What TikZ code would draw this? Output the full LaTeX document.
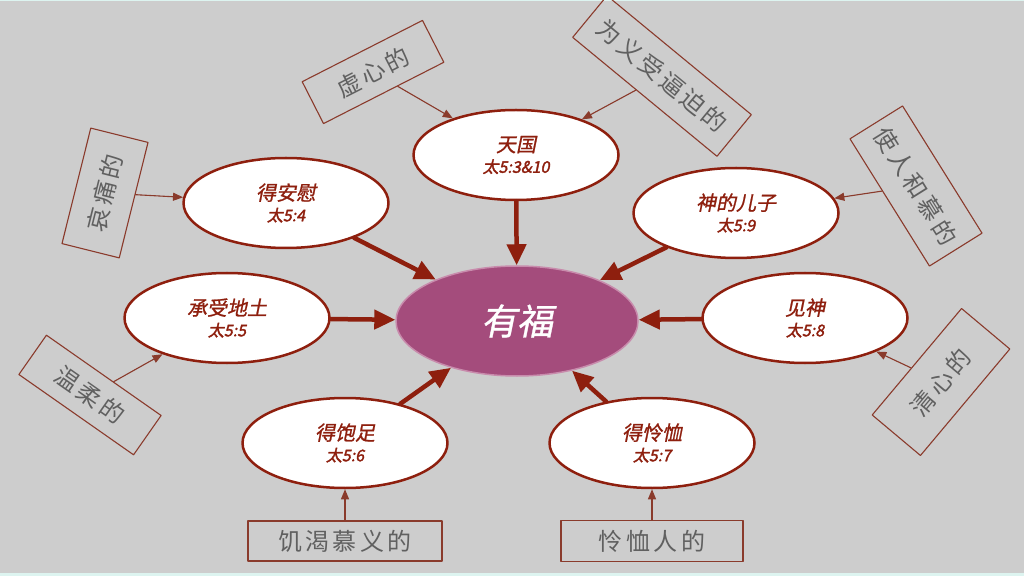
\documentclass[tikz,border=0pt]{standalone}
\usepackage{fontspec}
\setmainfont{Noto Sans CJK SC}
\newfontfamily\titlefont[FakeSlant=0.2,FakeBold=1]{Noto Sans CJK SC}
\newfontfamily\reffont[FakeSlant=0.2,FakeBold=2]{Noto Sans CJK SC}
\newfontfamily\boxfont[LetterSpace=14]{Noto Sans CJK SC}
\usepackage{tikz}
\usetikzlibrary{arrows.meta,shapes.geometric}

\definecolor{bggray}{HTML}{CDCDCD}
\definecolor{rimcyan}{HTML}{DDF4F0}
\definecolor{darkred}{HTML}{8E1F0E}
\definecolor{boxred}{HTML}{8A3B2C}
\definecolor{boxtext}{HTML}{606060}
\definecolor{plum}{HTML}{A44C7C}
\definecolor{plumrim}{HTML}{C88BAC}

\newcommand{\blessing}[2]{{\titlefont\fontsize{20}{22}\selectfont #1}\\{\reffont\fontsize{16}{18}\selectfont #2}}

\begin{document}
\begin{tikzpicture}[x=1pt,y=1pt,line cap=round,line join=round,>={Triangle[length=10pt,width=8pt]},
    result/.style={ellipse,draw=darkred,line width=2.5pt,fill=white,minimum width=205pt,minimum height=90pt,inner sep=0pt,align=center,text=darkred,font=\fontsize{19}{21}\selectfont},
    trait/.style={draw=boxred,line width=1.1pt,inner sep=0pt,text=boxtext,font=\boxfont\fontsize{24}{26}\selectfont},
    feed/.style={->,draw=boxred,fill=boxred,line width=1.1pt},
    lead/.style={-{Triangle[length=21pt,width=19pt]},draw=darkred,line width=4.5pt}]
    \useasboundingbox (0,0) rectangle (1024,576);
    \fill[bggray] (0,0) rectangle (1024,576);
    \fill[rimcyan] (0,0) rectangle (1024,3);
    \fill[rimcyan] (0,575) rectangle (1024,576);

    \node[ellipse,draw=plumrim,line width=1.5pt,fill=plum,minimum width=242pt,minimum height=110pt,text=white,font=\titlefont\fontsize{36}{38}\selectfont] (blessed) at (517,255) {有福};

    \node[result] (kingdom) at (516,421) {\blessing{天国}{太5:3\&10}};
    \node[result] (comfort) at (286,373) {\blessing{得安慰}{太5:4}};
    \node[result] (sons) at (736,363) {\blessing{神的儿子}{太5:9}};
    \node[result] (earth) at (227,258) {\blessing{承受地土}{太5:5}};
    \node[result] (seegod) at (805,258) {\blessing{见神}{太5:8}};
    \node[result] (filled) at (345,133) {\blessing{得饱足}{太5:6}};
    \node[result] (mercy) at (652,133) {\blessing{得怜恤}{太5:7}};

    \node[trait,rotate=27,minimum width=135pt,minimum height=47pt] (poor) at (373,504) {虚心的};
    \node[trait,rotate=-39.5,minimum width=187pt,minimum height=54pt] (persecuted) at (662,500) {为义受逼迫的};
    \node[trait,rotate=-58,minimum width=150pt,minimum height=62pt] (peace) at (916,390) {使人和慕的};
    \node[trait,rotate=76,minimum width=119pt,minimum height=59pt] (mourn) at (105,383) {哀痛的};
    \node[trait,rotate=-35,minimum width=140pt,minimum height=48pt] (meek) at (90,181) {温柔的};
    \node[trait,rotate=50,minimum width=139pt,minimum height=63pt] (pure) at (941,194) {清心的};
    \node[trait,minimum width=194pt,minimum height=40pt] (hunger) at (345,35) {饥渴慕义的};
    \node[trait,minimum width=182pt,minimum height=41pt] (merciful) at (652,35) {怜恤人的};

    \draw[feed] (poor) -- (kingdom);
    \draw[feed] (persecuted) -- (kingdom);
    \draw[feed] (peace) -- (sons);
    \draw[feed] (mourn) -- (comfort);
    \draw[feed] (meek) -- (earth);
    \draw[feed] (pure) -- (seegod);
    \draw[feed] (hunger) -- (filled);
    \draw[feed] (merciful) -- (mercy);

    \draw[lead] (kingdom) -- (blessed);
    \draw[lead] (comfort) -- (blessed);
    \draw[lead] (sons) -- (blessed);
    \draw[lead] (earth) -- (blessed);
    \draw[lead] (seegod) -- (blessed);
    \draw[lead] (filled) -- (blessed);
    \draw[lead] (mercy) -- (blessed);
\end{tikzpicture}
\end{document}
